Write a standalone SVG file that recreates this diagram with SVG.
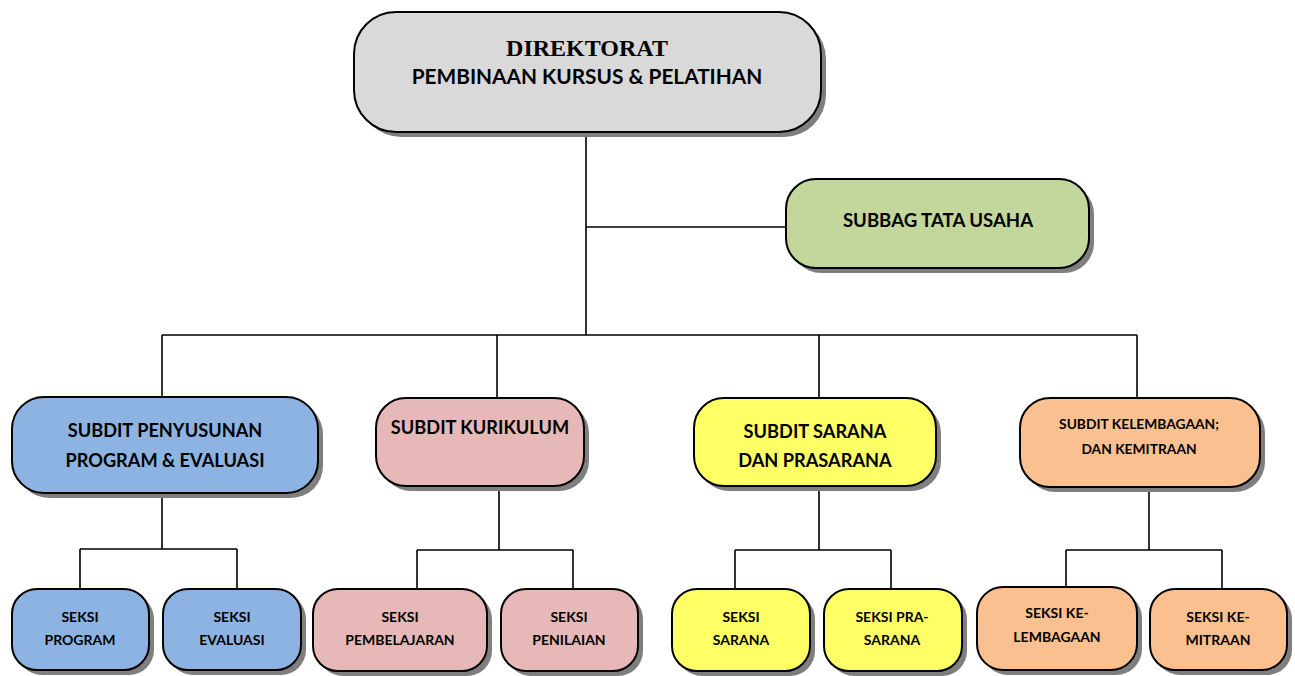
<svg xmlns="http://www.w3.org/2000/svg" width="1295" height="676" viewBox="0 0 1295 676">
<defs>
<style>
.box{stroke:#000;stroke-width:2}
.sh{fill:#7f7f7f}
.t{font-family:Lato,"Liberation Sans",sans-serif;font-weight:bold;fill:#000;text-anchor:middle}
.s{font-size:14px}
.ln{stroke:#000;stroke-width:1.6;fill:none}
.gray{fill:#d9d9d9}.green{fill:#c3d69b}.blue{fill:#8db3e2}.pink{fill:#e6b9b8}.yellow{fill:#ffff66}.orange{fill:#fac090}
</style>
</defs>
<rect width="1295" height="676" fill="#fff"/>
<g id="connectors">
<path class="ln" d="M586 132V335M586 227H786M162 335H1137M162 335V397M497 335V398M819 335V398M1137 335V398"/>
<path class="ln" d="M162 493V549M80 549H237M80 549V589M237 549V589"/>
<path class="ln" d="M499 486V550M417 550H573M417 550V589M573 550V589"/>
<path class="ln" d="M819 486V550M735 550H891M735 550V589M891 550V589"/>
<path class="ln" d="M1149 487V550M1066 550H1222M1066 550V587M1222 550V589"/>
</g>
<g id="direktorat">
<rect class="sh" x="359" y="17" width="467" height="120" rx="42"/>
<rect class="box gray" x="354" y="12" width="467" height="120" rx="42"/>
<text x="587" y="56" style="font-family:'Liberation Serif',serif;font-weight:bold;font-size:24px;text-anchor:middle">DIREKTORAT</text>
<text class="t" x="587" y="84" style="font-size:20.8px">PEMBINAAN KURSUS &amp; PELATIHAN</text>
</g>
<g id="subbag">
<rect class="sh" x="791" y="184" width="303" height="89" rx="30"/>
<rect class="box green" x="786" y="179" width="303" height="89" rx="30"/>
<text class="t" x="938" y="227" style="font-size:18.6px">SUBBAG TATA USAHA</text>
</g>
<g id="subdit-penyusunan">
<rect class="sh" x="17" y="402" width="306" height="96" rx="32"/>
<rect class="box blue" x="12" y="397" width="306" height="96" rx="32"/>
<text class="t" x="165" y="437" style="font-size:18.2px">SUBDIT PENYUSUNAN</text>
<text class="t" x="165" y="467" style="font-size:18.2px">PROGRAM &amp; EVALUASI</text>
</g>
<g id="subdit-kurikulum">
<rect class="sh" x="381" y="403" width="208" height="88" rx="30"/>
<rect class="box pink" x="376" y="398" width="208" height="88" rx="30"/>
<text class="t" x="480" y="434" style="font-size:18.2px">SUBDIT KURIKULUM</text>
</g>
<g id="subdit-sarana">
<rect class="sh" x="699" y="403" width="242" height="88" rx="30"/>
<rect class="box yellow" x="694" y="398" width="242" height="88" rx="30"/>
<text class="t" x="815" y="438" style="font-size:18.2px">SUBDIT SARANA</text>
<text class="t" x="815" y="467" style="font-size:18.2px">DAN PRASARANA</text>
</g>
<g id="subdit-kelembagaan">
<rect class="sh" x="1025" y="403" width="240" height="89" rx="30"/>
<rect class="box orange" x="1020" y="398" width="240" height="89" rx="30"/>
<text class="t" x="1139" y="429" style="font-size:13.8px">SUBDIT KELEMBAGAAN;</text>
<text class="t" x="1139" y="454" style="font-size:13.8px">DAN KEMITRAAN</text>
</g>
<g id="seksi-program">
<rect class="sh" x="17" y="594" width="137" height="81" rx="25"/>
<rect class="box blue" x="12" y="589" width="137" height="81" rx="25"/>
<text class="t s" x="80" y="622">SEKSI</text>
<text class="t s" x="80" y="645">PROGRAM</text>
</g>
<g id="seksi-evaluasi">
<rect class="sh" x="168" y="594" width="138" height="81" rx="25"/>
<rect class="box blue" x="163" y="589" width="138" height="81" rx="25"/>
<text class="t s" x="232" y="622">SEKSI</text>
<text class="t s" x="232" y="645">EVALUASI</text>
</g>
<g id="seksi-pembelajaran">
<rect class="sh" x="318" y="594" width="174" height="82" rx="25"/>
<rect class="box pink" x="313" y="589" width="174" height="82" rx="25"/>
<text class="t s" x="400" y="622">SEKSI</text>
<text class="t s" x="400" y="645">PEMBELAJARAN</text>
</g>
<g id="seksi-penilaian">
<rect class="sh" x="506" y="594" width="137" height="82" rx="25"/>
<rect class="box pink" x="501" y="589" width="137" height="82" rx="25"/>
<text class="t s" x="569" y="622">SEKSI</text>
<text class="t s" x="569" y="645">PENILAIAN</text>
</g>
<g id="seksi-sarana">
<rect class="sh" x="677" y="594" width="138" height="82" rx="25"/>
<rect class="box yellow" x="672" y="589" width="138" height="82" rx="25"/>
<text class="t s" x="741" y="622">SEKSI</text>
<text class="t s" x="741" y="645">SARANA</text>
</g>
<g id="seksi-prasarana">
<rect class="sh" x="829" y="594" width="138" height="82" rx="25"/>
<rect class="box yellow" x="824" y="589" width="138" height="82" rx="25"/>
<text class="t s" x="892" y="622">SEKSI PRA-</text>
<text class="t s" x="892" y="645">SARANA</text>
</g>
<g id="seksi-kelembagaan">
<rect class="sh" x="982" y="592" width="160" height="83" rx="26"/>
<rect class="box orange" x="977" y="587" width="160" height="83" rx="26"/>
<text class="t s" x="1057" y="618">SEKSI KE-</text>
<text class="t s" x="1057" y="642">LEMBAGAAN</text>
</g>
<g id="seksi-kemitraan">
<rect class="sh" x="1155" y="594" width="137" height="81" rx="25"/>
<rect class="box orange" x="1150" y="589" width="137" height="81" rx="25"/>
<text class="t s" x="1218" y="622">SEKSI KE-</text>
<text class="t s" x="1218" y="645">MITRAAN</text>
</g>
</svg>
